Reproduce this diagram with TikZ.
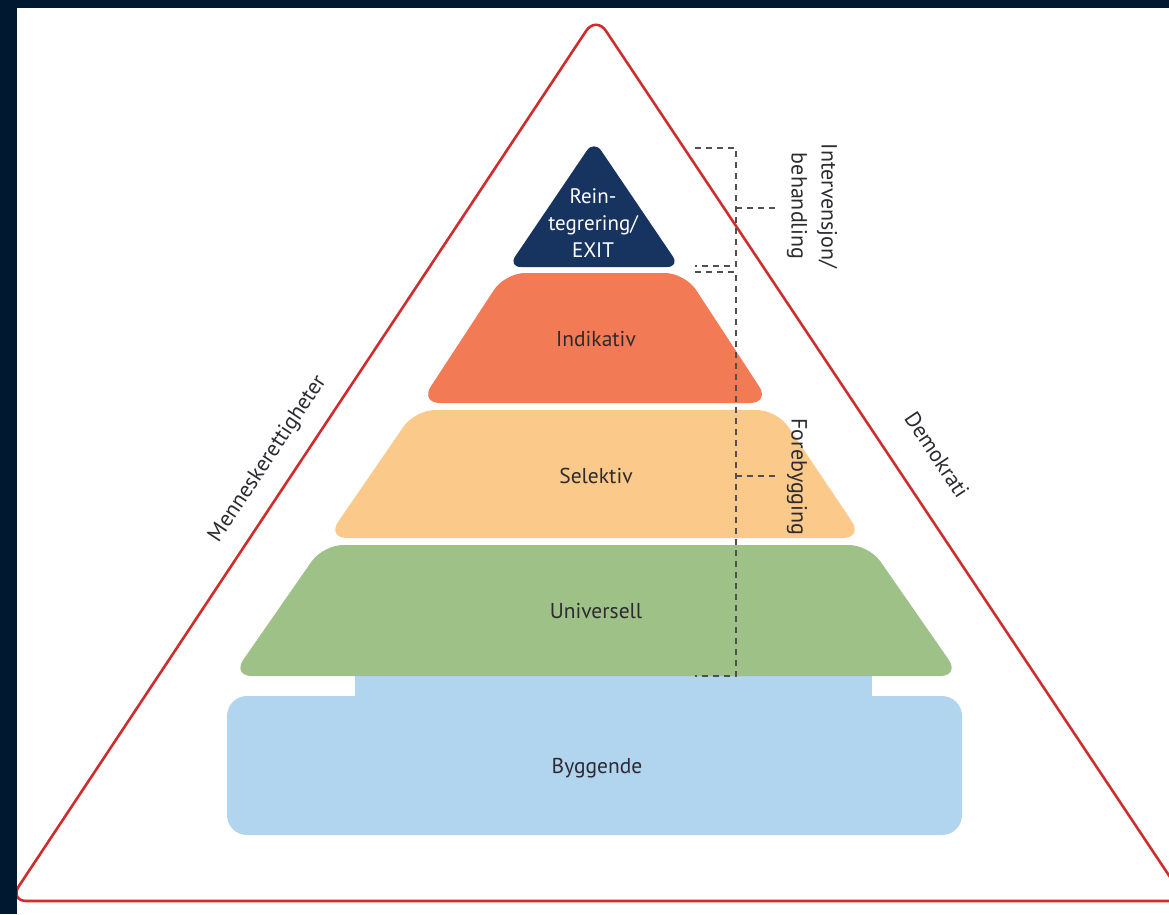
\documentclass[tikz,border=0pt]{standalone}
\usepackage{fontspec}
\setmainfont{PT Sans}
\definecolor{framec}{RGB}{0,24,48}
\definecolor{redc}{RGB}{208,44,44}
\definecolor{navyc}{RGB}{22,52,95}
\definecolor{orangec}{RGB}{242,122,85}
\definecolor{peachc}{RGB}{251,201,138}
\definecolor{greenc}{RGB}{158,193,136}
\definecolor{bluec}{RGB}{177,212,239}
\definecolor{txtc}{RGB}{45,42,48}
\definecolor{dashc}{RGB}{80,80,80}
\tikzset{
  lbl/.style={font=\fontsize{21.5}{26}\selectfont, text=txtc, inner sep=0pt},
  sidelbl/.style={font=\fontsize{22}{30}\selectfont, text=txtc, inner sep=0pt, align=center},
  brk/.style={draw=dashc, line width=1.4pt, dash pattern=on 6pt off 5pt},
  layer/.style={rounded corners=20pt},
}
\begin{document}
\begin{tikzpicture}[x=1pt,y=-1pt]
\useasboundingbox (0,0) rectangle (1169,914);
\fill[white] (0,0) rectangle (1169,914);
% outer triangle
\draw[redc, line width=2.6pt, rounded corners=18pt] (9,901) -- (596,16) -- (1186,901) -- cycle;
% connector and base
\fill[bluec] (355,660) rectangle (872,705);
\fill[bluec, rounded corners=20pt] (227,696) rectangle (962,835);
% layers
\fill[greenc, layer] (232,676) -- (323,545) -- (869,545) -- (960,676) -- cycle;
\fill[peachc, layer] (327,538) -- (415,410) -- (777,410) -- (863,538) -- cycle;
\fill[orangec, layer] (420,403) -- (505,273) -- (685,273) -- (770,403) -- cycle;
\fill[navyc, rounded corners=13pt] (508,267) -- (594,140) -- (680,267) -- cycle;
% labels
\node[lbl, text=white, align=center, font=\fontsize{21}{27}\selectfont] (reint) at (593,223) {Rein-\\tegrering/\\EXIT};
\node[lbl] (ind) at (596,339) {Indikativ};
\node[lbl] (sel) at (596,476) {Selektiv};
\node[lbl] (uni) at (596,611) {Universell};
\node[lbl] (byg) at (597,768) {Byggende};
% brackets
\coordinate (a1) at (695,148);
\coordinate (a2) at (736,148);
\coordinate (a3) at (736,266);
\coordinate (a4) at (695,266);
\coordinate (am) at (736,208);
\coordinate (ae) at (778,208);
\coordinate (b1) at (695,272);
\coordinate (b2) at (736,272);
\coordinate (b3) at (736,676);
\coordinate (b4) at (695,676);
\coordinate (bm) at (736,476);
\coordinate (be) at (778,476);
\draw[brk] (a1) -- (a2) -- (a3) -- (a4);
\draw[brk] (am) -- (ae);
\draw[brk] (b1) -- (b2) -- (b3) -- (b4);
\draw[brk] (bm) -- (be);
\node[sidelbl, rotate=-90] (interv) at (812,206) {Intervensjon/\\behandling};
\node[sidelbl, rotate=-90] (foreb) at (797,477) {Forebygging};
\node[sidelbl, rotate=56.4] (menn) at (268,459) {Menneskerettigheter};
\node[sidelbl, rotate=-56.4] (demo) at (937,455) {Demokrati};
% frame
\fill[framec] (0,0) rectangle (1169,8);
\fill[framec] (0,0) rectangle (17,914);
\end{tikzpicture}
\end{document}
